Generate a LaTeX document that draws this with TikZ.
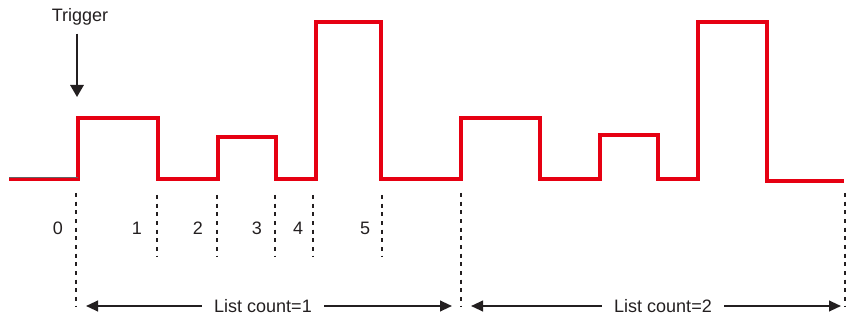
\documentclass[tikz,border=0pt]{standalone}
\usepackage{fontspec}
\setmainfont{Liberation Sans}
\usetikzlibrary{arrows.meta}

\definecolor{sigred}{HTML}{E60012}
\definecolor{ink}{HTML}{231F20}

\begin{document}
\begin{tikzpicture}[x=0.75pt,y=-0.75pt,
    lbl/.style={text=ink,font=\fontsize{13.5}{16}\selectfont,inner sep=1pt},
    wave/.style={sigred,line width=2.3pt,line join=miter},
    cutline/.style={ink,line width=1.5pt,dash pattern=on 3pt off 3.5pt},
    span/.style={ink,line width=1.5pt,-{Triangle[length=9pt,width=8pt]}},
    pointer/.style={ink,line width=1.5pt,-{Triangle[length=9pt,width=10pt]}}]

  \useasboundingbox (0,0) rectangle (855,320);

  \def\low{179}

  % signal
  \draw[wave] (9,\low) -- (78,\low) -- (78,118) -- (158,118) -- (158,\low)
    -- (218,\low) -- (218,137) -- (276,137) -- (276,\low)
    -- (316,\low) -- (316,22) -- (381,22) -- (381,\low)
    -- (461,\low) -- (461,118) -- (540,118) -- (540,\low)
    -- (600,\low) -- (600,135) -- (658,135) -- (658,\low)
    -- (698,\low) -- (698,22) -- (767,22) -- (767,181) -- (844,181);
  \draw[ink!70,line width=0.8pt] (9,177.5) -- (78,177.5);

  % trigger
  \node[lbl] (trig) at (80,17) {Trigger};
  \coordinate (trigtip) at (77,97);
  \draw[pointer,shorten <=5pt] (trigtip |- trig.south) -- (trigtip);

  % list boundaries
  \foreach \x in {76,461,845}
    \draw[cutline] (\x,193) -- (\x,307);
  % step boundaries
  \foreach \x in {157,217,275,313,382}
    \draw[cutline] (\x,195) -- (\x,256);

  \foreach \x/\t in {58/0,137/1,198/2,257/3,298/4,365/5}
    \node[lbl] (idx\t) at (\x,228) {\t};

  % list counts
  \node[lbl,inner xsep=9pt] (count1) at (263,306) {List count=1};
  \coordinate (c1l) at (86,306);
  \coordinate (c1r) at (452,306);
  \draw[span] (count1) -- (c1l);
  \draw[span] (count1) -- (c1r);

  \node[lbl,inner xsep=9pt] (count2) at (663,306) {List count=2};
  \coordinate (c2l) at (471,306);
  \coordinate (c2r) at (841,306);
  \draw[span] (count2) -- (c2l);
  \draw[span] (count2) -- (c2r);

\end{tikzpicture}
\end{document}
